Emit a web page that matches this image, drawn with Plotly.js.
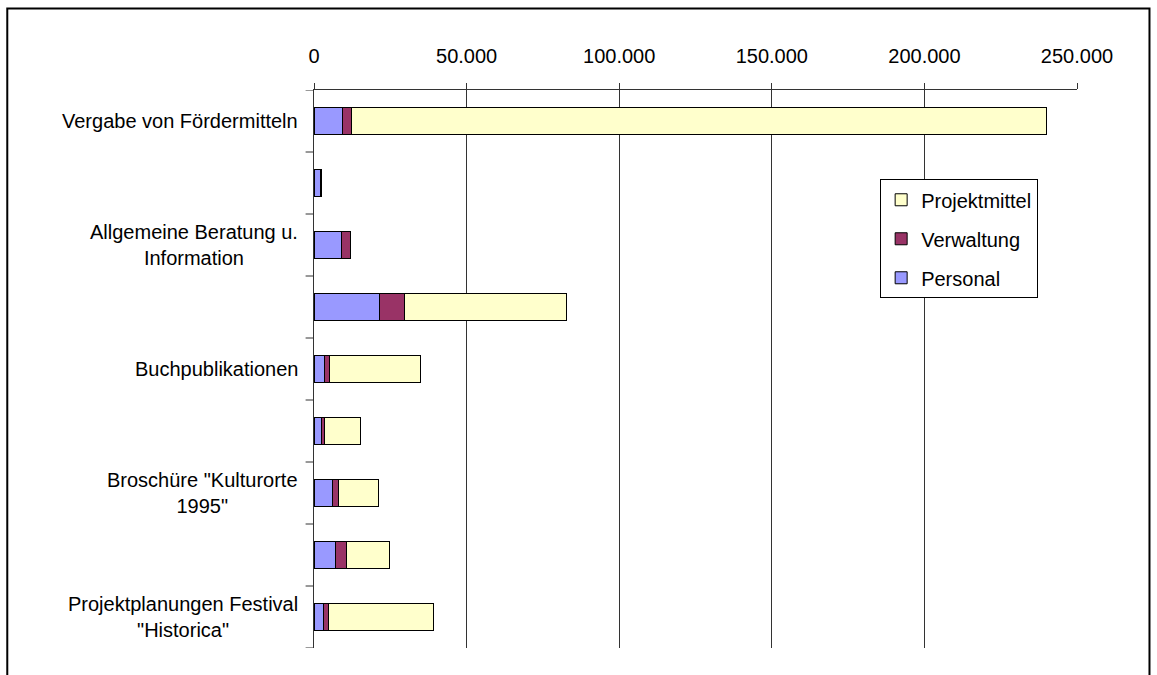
<!DOCTYPE html>
<html><head><meta charset="utf-8">
<script src="https://cdn.plot.ly/plotly-3.0.1.min.js"></script>
<style>body{margin:0}</style></head>
<body><div id="chart" style="width:1157px;height:675px"></div>
<script>
var labels = ['Vergabe von Fördermitteln', '', 'Allgemeine Beratung u.<br>Information', '', 'Buchpublikationen', '', 'Broschüre "Kulturorte<br>1995"', '', 'Projektplanungen Festival<br>"Historica"'];
var personal = [9200, 2000, 8850, 21600, 3600, 2300, 5900, 7200, 2950];
var verwaltung = [3200, 600, 2950, 7900, 1640, 1000, 2000, 3300, 1640];
var projektmittel = [227700, 0, 0, 53100, 29500, 11800, 13100, 14400, 34700];

var pos = labels.map(function (l, i) { return i; });
function trace(name, vals, color, rank) {
  return {type: 'bar', orientation: 'h', name: name, legendgroup: name, legendrank: rank,
    x: vals, y: pos, width: 0.45,
    marker: {color: color, line: {color: '#000', width: 1}}, hoverinfo: 'x+name'};
}
var data = [
  trace('Personal', personal, '#9999FF', 3),
  trace('Verwaltung', verwaltung, '#993366', 2),
  trace('Projektmittel', projektmittel, '#FFFFCC', 1)
];
var layout = {
  barmode: 'stack', separators: ',.', showlegend: true,
  width: 1157, height: 675,
  margin: {l: 314, r: 80, t: 90, b: 27},
  font: {family: 'Liberation Sans, Arial', size: 20, color: '#000'},
  paper_bgcolor: '#fff', plot_bgcolor: '#fff',
  xaxis: {side: 'top', range: [0, 250000], dtick: 50000, tickformat: ',.0f',
    showgrid: true, gridcolor: '#333', gridwidth: 1, zeroline: false,
    showline: true, linecolor: '#333', ticks: 'outside', ticklen: 6, tickcolor: '#333',
    ticklabelstandoff: 12},
  yaxis: {range: [8.5, -0.5], tickvals: pos, showticklabels: false, ticks: '',
    showline: true, linecolor: '#333', showgrid: false, zeroline: false},
  legend: {x: 0.742, y: 0.84, xanchor: 'left', yanchor: 'top', traceorder: 'grouped',
    bordercolor: '#000', borderwidth: 1, font: {size: 20}, tracegroupgap: 10,
    itemwidth: 30},
  annotations: labels.map(function (t, i) {
    return {text: t, xref: 'paper', yref: 'y', x: -0.018, y: i, xanchor: 'right',
      align: 'center', showarrow: false, font: {size: 20}};
  }),
  shapes: [
    {type: 'rect', xref: 'paper', yref: 'paper', x0: -0.402, x1: 1.095, y0: -0.1, y1: 1.146,
      line: {color: '#000', width: 2}}
  ]
};
[-0.5, 0.5, 1.5, 2.5, 3.5, 4.5, 5.5, 6.5, 7.5, 8.5].forEach(function (v) {
  layout.shapes.push({type: 'line', xref: 'paper', yref: 'y', x0: -0.011, x1: 0, y0: v, y1: v,
    line: {color: '#333', width: 1}});
});
Plotly.newPlot('chart', data, layout, {displayModeBar: false});
</script></body></html>
